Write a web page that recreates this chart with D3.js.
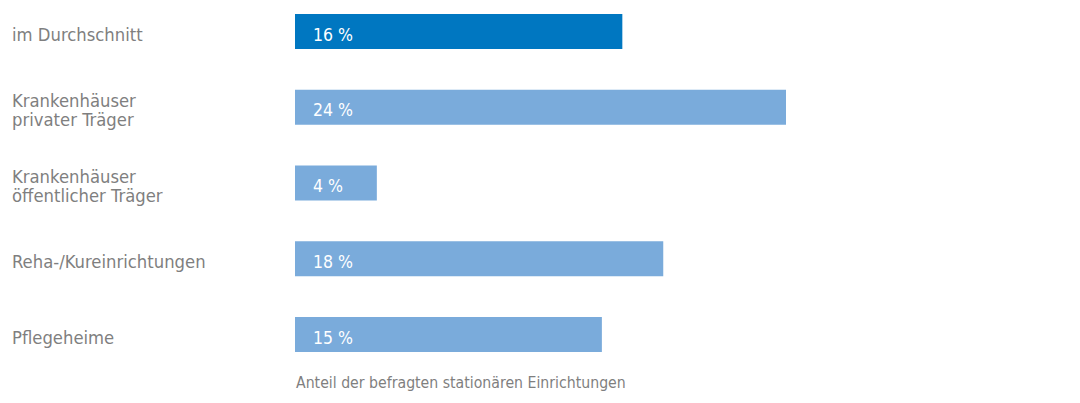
<!DOCTYPE html>
<html>
<head>
<meta charset="utf-8">
<script src="https://cdn.jsdelivr.net/npm/d3@7"></script>
<style>
  body { margin: 0; background: #fff; }
  svg text { font-family: "DejaVu Sans Condensed", "Noto Sans", sans-serif; }
</style>
</head>
<body>
<script>
// categories and values
var categories = [
  ["im Durchschnitt"],
  ["Krankenhäuser", "privater Träger"],
  ["Krankenhäuser", "öffentlicher Träger"],
  ["Reha-/Kureinrichtungen"],
  ["Pflegeheime"]
]
var values = [16, 24, 4, 18, 15]
var valueLabels = ["16 %", "24 %", "4 %", "18 %", "15 %"]
var footnote = "Anteil der befragten stationären Einrichtungen"

var width = 1080, height = 403

var svg = d3.select("body").append("svg")
  .attr("width", width)
  .attr("height", height)

var x = d3.scaleLinear()
  .domain([0, 24])
  .range([295, 786])

var y = d3.scaleBand()
  .domain(d3.range(values.length))
  .range([14, 352])
  .paddingInner(0.538)
  .paddingOuter(0)

var data = values.map(function(v, i) {
  return {value: v, label: categories[i], text: valueLabels[i], i: i}
})

// bars
svg.selectAll(".bar")
  .data(data)
  .enter().append("rect")
  .attr("class", "bar")
  .attr("x", x(0))
  .attr("y", function(d) { return y(d.i) })
  .attr("width", function(d) { return x(d.value) - x(0) })
  .attr("height", y.bandwidth())
  .style("fill", function(d) { return d.i == 0 ? "#0077c1" : "#7aabdb" })

// values inside the bars
svg.selectAll(".val")
  .data(data)
  .enter().append("text")
  .attr("class", "val")
  .attr("x", x(0) + 18)
  .attr("y", function(d) { return y(d.i) + y.bandwidth() / 2 + 3 })
  .attr("dy", ".35em")
  .style("fill", "#fff")
  .style("font-size", "17.5px")
  .text(function(d) { return d.text })

// category labels, one or two lines
var lab = svg.selectAll(".lab")
  .data(data)
  .enter().append("text")
  .attr("class", "lab")
  .style("fill", "#7f7f7f")
  .style("font-size", "18.3px")

lab.selectAll("tspan")
  .data(function(d) {
    var c = y(d.i) + y.bandwidth() / 2 + 3
    var n = d.label.length
    return d.label.map(function(t, k) { return {t: t, yy: c + (k - (n - 1) / 2) * 18.5} })
  })
  .enter().append("tspan")
  .attr("x", 12)
  .attr("y", function(d) { return d.yy })
  .attr("dy", ".35em")
  .text(function(d) { return d.t })

svg.append("text")
  .attr("x", 296)
  .attr("y", 383)
  .attr("dy", ".35em")
  .style("fill", "#7f7f7f")
  .style("font-size", "15.7px")
  .text(footnote)
</script>
</body>
</html>
